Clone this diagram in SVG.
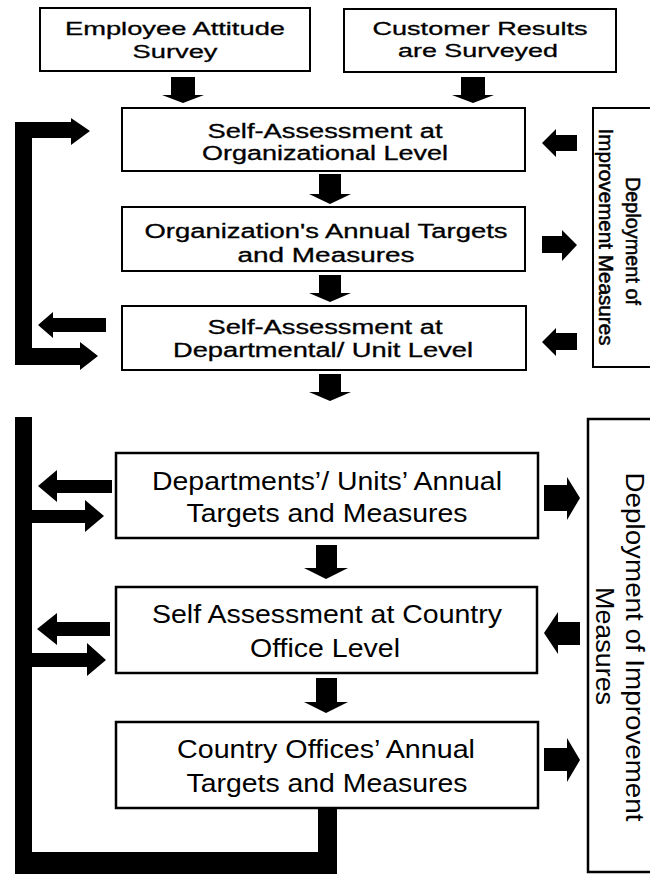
<svg xmlns="http://www.w3.org/2000/svg" width="650" height="876" viewBox="0 0 650 876">
  <style>
    .box { fill: #ffffff; stroke: #000000; stroke-width: 2; }
    .boxb { fill: #ffffff; stroke: #000000; stroke-width: 2.5; }
    .t { font-family: "Liberation Sans", Arial, sans-serif; fill: #000000; text-anchor: middle; }
    .s18 { font-size: 19px; stroke: #000000; stroke-width: 0.3; }
    .s20 { font-size: 20px; stroke: #000000; stroke-width: 0.3; }
    .v20 { font-size: 20px; stroke: #000000; stroke-width: 0.5; }
    .s25 { font-size: 26px; }
    .v26 { font-size: 26px; }
    .arr { fill: #000000; stroke: none; }
  </style>

  <rect width="650" height="876" fill="#ffffff"/>

  <!-- upper stage -->
  <g id="employee-survey">
    <rect class="box" x="40" y="8" width="270" height="63"/>
    <text class="t s18" x="175" y="35" textLength="220" lengthAdjust="spacingAndGlyphs">Employee Attitude</text>
    <text class="t s18" x="175" y="58" textLength="85" lengthAdjust="spacingAndGlyphs">Survey</text>
  </g>

  <g id="customer-survey">
    <rect class="box" x="344" y="9" width="272" height="63"/>
    <text class="t s18" x="480" y="35" textLength="215" lengthAdjust="spacingAndGlyphs">Customer Results</text>
    <text class="t s18" x="478" y="57" textLength="160" lengthAdjust="spacingAndGlyphs">are Surveyed</text>
  </g>

  <g id="org-self-assessment">
    <rect class="box" x="122" y="108" width="403" height="63"/>
    <text class="t s20" x="325" y="138" textLength="235" lengthAdjust="spacingAndGlyphs">Self-Assessment at</text>
    <text class="t s20" x="325" y="160" textLength="246" lengthAdjust="spacingAndGlyphs">Organizational Level</text>
  </g>

  <g id="org-targets">
    <rect class="box" x="122" y="207" width="403" height="64"/>
    <text class="t s20" x="326" y="238" textLength="363" lengthAdjust="spacingAndGlyphs">Organization's Annual Targets</text>
    <text class="t s20" x="326" y="262" textLength="177" lengthAdjust="spacingAndGlyphs">and Measures</text>
  </g>

  <g id="dept-self-assessment">
    <rect class="box" x="122" y="306" width="404" height="64"/>
    <text class="t s20" x="325" y="334" textLength="235" lengthAdjust="spacingAndGlyphs">Self-Assessment at</text>
    <text class="t s20" x="323" y="357" textLength="300" lengthAdjust="spacingAndGlyphs">Departmental/ Unit Level</text>
  </g>

  <g id="deployment-upper">
    <rect class="box" x="593" y="108" width="70" height="259"/>
    <text class="t v20" transform="translate(626 241) rotate(90)" textLength="128" lengthAdjust="spacingAndGlyphs">Deployment of</text>
    <text class="t v20" transform="translate(599 237) rotate(90)" textLength="217" lengthAdjust="spacingAndGlyphs">Improvement Measures</text>
  </g>

  <!-- lower stage -->
  <g id="dept-targets">
    <rect class="boxb" x="116" y="453" width="422" height="85"/>
    <text class="t s25" x="327" y="490" textLength="350" lengthAdjust="spacingAndGlyphs">Departments’/ Units’ Annual</text>
    <text class="t s25" x="327" y="522" textLength="281" lengthAdjust="spacingAndGlyphs">Targets and Measures</text>
  </g>

  <g id="country-self-assessment">
    <rect class="boxb" x="116" y="587" width="421" height="86"/>
    <text class="t s25" x="327" y="623" textLength="350" lengthAdjust="spacingAndGlyphs">Self Assessment at Country</text>
    <text class="t s25" x="325" y="657" textLength="150" lengthAdjust="spacingAndGlyphs">Office Level</text>
  </g>

  <g id="country-targets">
    <rect class="boxb" x="116" y="722" width="422" height="86"/>
    <text class="t s25" x="326" y="758" textLength="298" lengthAdjust="spacingAndGlyphs">Country Offices’ Annual</text>
    <text class="t s25" x="327" y="792" textLength="281" lengthAdjust="spacingAndGlyphs">Targets and Measures</text>
  </g>

  <g id="deployment-lower">
    <rect class="boxb" x="588" y="419" width="80" height="453"/>
    <text class="t v26" transform="translate(626 647) rotate(90)" textLength="349" lengthAdjust="spacingAndGlyphs">Deployment of Improvement</text>
    <text class="t v26" transform="translate(596 646) rotate(90)" textLength="118" lengthAdjust="spacingAndGlyphs">Measures</text>
  </g>

  <!-- block arrows and feedback loops -->
  <g id="connectors" class="arr">
    <!-- downward flow -->
    <path d="M171,77 H195 V95 H204 L183,103 L162,95 H171 Z"/>
    <path d="M461,77 H485 V95 H494 L473,103 L452,95 H461 Z"/>
    <path d="M319,174 H341 V194 H351 L330,204 L309,194 H319 Z"/>
    <path d="M319,275 H341 V293 H351 L330,302 L309,293 H319 Z"/>
    <path d="M319,374 H341 V392 H351 L330,401 L309,392 H319 Z"/>
    <path d="M316,545 H337 V568 H348 L326,579 L304,568 H316 Z"/>
    <path d="M316,678 H337 V702 H348 L326,713 L304,702 H316 Z"/>

    <!-- upper feedback bracket -->
    <path d="M15,122 H71 V118 L90,131 L71,145 V138 H32 V348 H80 V342 L98,356 L80,370 V365 H15 Z"/>
    <path d="M106,318 V332 H53 V338 L38,325 L53,312 V318 Z"/>

    <!-- lower feedback bracket -->
    <path d="M15,417 H32 V510 H85 V500 L104,516 L85,532 V523 H32 V653 H87 V643 L106,660 L87,676 V667 H32 V852 H318 V808 H337 V874 H15 Z"/>
    <path d="M112,480 V493 H57 V502 L38,486 L57,470 V480 Z"/>
    <path d="M110,622 V636 H57 V645 L37,629 L57,613 V622 Z"/>

    <!-- exchange with deployment, upper -->
    <path d="M577,135 V151 H556 V157 L542,143 L556,129 V135 Z"/>
    <path d="M542,236 H562 V230 L577,245 L562,261 V253 H542 Z"/>
    <path d="M577,333 V350 H556 V356 L542,342 L556,328 V333 Z"/>

    <!-- exchange with deployment, lower -->
    <path d="M544,485 H567 V477 L580,498 L567,520 V511 H544 Z"/>
    <path d="M580,622 V645 H558 V654 L544,633 L558,612 V622 Z"/>
    <path d="M544,748 H567 V738 L580,760 L567,782 V771 H544 Z"/>
  </g>
</svg>
